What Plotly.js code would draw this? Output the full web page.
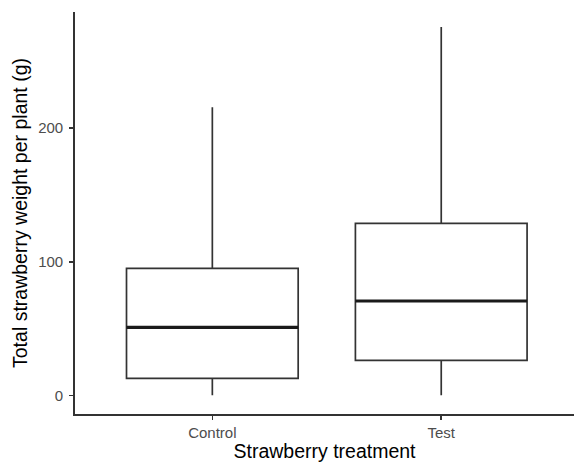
<!DOCTYPE html>
<html>
<head>
<meta charset="utf-8">
<script src="https://cdn.plot.ly/plotly-3.0.1.min.js"></script>
<style>html,body{margin:0;padding:0;background:#fff;}#chart{width:574px;height:462px;}</style>
</head>
<body>
<div id="chart"></div>
<script>
var categories = ['Control', 'Test'];
var lowerWhisker = [0, 0];
var q1Values = [12.7, 26.2];
var medianValues = [50.9, 70.6];
var q3Values = [95.1, 128.8];
var upperWhisker = [215.7, 275.7];
var yTickValues = [0, 100, 200];
var xTitle = 'Strawberry treatment';
var yTitle = 'Total strawberry weight per plant (g)';

var lineColor = '#333333';
var boxes = {
  type: 'box',
  x: categories,
  q1: q1Values,
  median: medianValues,
  q3: q3Values,
  lowerfence: lowerWhisker,
  upperfence: upperWhisker,
  width: 0.75,
  whiskerwidth: 0,
  fillcolor: 'rgba(255,255,255,0)',
  line: {color: lineColor, width: 1.7},
  showlegend: false,
  hoverinfo: 'skip'
};
var medians = {
  type: 'box',
  x: categories,
  q1: medianValues,
  median: medianValues,
  q3: medianValues,
  lowerfence: medianValues,
  upperfence: medianValues,
  width: 0.75,
  whiskerwidth: 0,
  fillcolor: 'rgba(255,255,255,0)',
  line: {color: '#1a1a1a', width: 3.2},
  showlegend: false,
  hoverinfo: 'skip'
};

var font = 'Liberation Sans, Arial, sans-serif';
var layout = {
  width: 574,
  height: 462,
  margin: {l: 75, r: 0, t: 12, b: 48},
  paper_bgcolor: '#ffffff',
  plot_bgcolor: '#ffffff',
  boxmode: 'overlay',
  showlegend: false,
  font: {family: font, color: '#000000'},
  xaxis: {
    type: 'category',
    range: [-0.6, 1.58],
    showgrid: false,
    zeroline: false,
    showline: true,
    linecolor: lineColor,
    linewidth: 1.8,
    ticks: 'outside',
    ticklen: 4,
    tickwidth: 1.5,
    tickcolor: lineColor,
    tickfont: {family: font, size: 15, color: '#4d4d4d'},
    title: {text: xTitle, font: {family: font, size: 19.5, color: '#000000'}, standoff: 5}
  },
  yaxis: {
    range: [-14, 287],
    tickvals: yTickValues,
    ticktext: yTickValues.map(String),
    showgrid: false,
    zeroline: false,
    showline: true,
    linecolor: lineColor,
    linewidth: 1.8,
    ticks: 'outside',
    ticklen: 4,
    tickwidth: 1.5,
    tickcolor: lineColor,
    ticklabelstandoff: 3,
    tickfont: {family: font, size: 15, color: '#4d4d4d'},
    title: {text: yTitle, font: {family: font, size: 19.5, color: '#000000'}, standoff: 5}
  }
};

Plotly.newPlot('chart', [boxes, medians], layout, {displayModeBar: false, staticPlot: true});
</script>
</body>
</html>
